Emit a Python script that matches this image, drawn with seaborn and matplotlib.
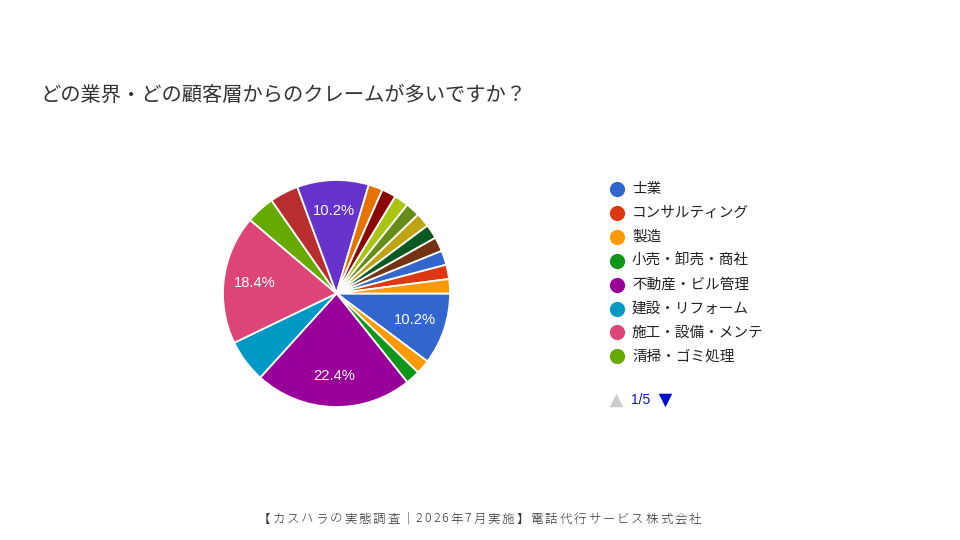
import matplotlib
matplotlib.use("Agg")
import matplotlib.pyplot as plt
import seaborn as sns
import numpy as np

# ---- data ----
title = "どの業界・どの顧客層からのクレームが多いですか？"
footer = "【カスハラの実態調査｜2026年7月実施】電話代行サービス株式会社"
legend_page1 = ["士業", "コンサルティング", "製造", "小売・卸売・商社",
                "不動産・ビル管理", "建設・リフォーム", "施工・設備・メンテ", "清掃・ゴミ処理"]
# responses per category, in legend order (34 categories, 5 legend pages)
counts = [5, 0, 1, 1, 11, 3, 9, 2,
          2, 0, 0, 0, 0, 5, 1, 1,
          0, 0, 0, 0, 0, 0, 0, 0,
          0, 1, 0, 1, 1, 1, 1, 1,
          1, 1]
page_text = "1/5"

google = ["#3366cc", "#dc3912", "#ff9900", "#109618", "#990099", "#0099c6", "#dd4477",
          "#66aa00", "#b82e2e", "#316395", "#994499", "#22aa99", "#aaaa11", "#6633cc",
          "#e67300", "#8b0707", "#651067", "#329262", "#5574a6", "#3b3eac", "#b77322",
          "#16d620", "#b91383", "#f4359e", "#9c5935", "#a9c413", "#2a778d", "#668d1c",
          "#bea413", "#0c5922", "#743411"]

sns.set_theme(style="white")
plt.rcParams['font.family'] = ['Noto Sans CJK JP', 'DejaVu Sans']

palette = sns.color_palette([google[i % len(google)] for i in range(len(counts))])

W, H = 960, 540
fig = plt.figure(figsize=(W / 100, H / 100), dpi=100)
fig.patch.set_facecolor("white")

# pie axes: centre (336.5, 293.5) px, radius 113.5 px
cx, cy, r = 336.5, 293.5, 113.5
lim = 1.1
size = 2 * lim * r
ax = fig.add_axes([(cx - size / 2) / W, (H - cy - size / 2) / H, size / W, size / H])

vals = np.array(counts, dtype=float)
mask = vals > 0
vals_nz = vals[mask]
cols_nz = [c for c, m in zip(palette, mask) if m]

def fmt(p):
    return f"{p:.1f}%" if p > 9 else ""

wedges, _, autotexts = ax.pie(vals_nz, colors=cols_nz, startangle=0, counterclock=False,
                              radius=1, autopct=fmt, pctdistance=0.73,
                              wedgeprops=dict(edgecolor="white", linewidth=1.3),
                              textprops=dict(color="white", fontsize=10.6,
                                             family=["Liberation Sans", "DejaVu Sans"]))
ax.set_xlim(-lim, lim)
ax.set_ylim(-lim, lim)
ax.set_aspect("equal")
ax.axis("off")

# overlay axes in pixel coordinates for text/legend
ov = fig.add_axes([0, 0, 1, 1], facecolor="none")
ov.set_xlim(0, W)
ov.set_ylim(H, 0)
ov.axis("off")

ov.text(40, 95, title, fontsize=14.6, color="#333333", ha="left", va="center")

# footer with letter spacing (placed character by character)
renderer = fig.canvas.get_renderer()
fx0, fx1, fy = 258, 701, 519
objs = []
widths = []
for ch in footer:
    t = ov.text(0, fy, ch, fontsize=9.0, color="#333333", ha="left", va="center",
                fontweight="light")
    objs.append(t)
    widths.append(t.get_window_extent(renderer).width)
gap = (fx1 - fx0 - sum(widths)) / (len(footer) - 1)
x = fx0
for t, w in zip(objs, widths):
    t.set_x(x)
    x += w + gap

# legend (page 1)
for i, lab in enumerate(legend_page1):
    y = 189 + i * 23.9
    ov.scatter([617], [y], s=120, color=palette[i], marker="o", linewidths=0)
    ov.text(632, y, lab, fontsize=10.5, color="#222222", ha="left", va="center")

ypg = 400
ov.scatter([616], [ypg], s=95, marker="^", color="#cccccc", linewidths=0)
ov.text(631, ypg, page_text, fontsize=10, color="#0011cc", ha="left", va="center",
        family=["Liberation Sans", "DejaVu Sans"])
ov.scatter([665], [ypg], s=95, marker="v", color="#0011cc", linewidths=0)

fig.savefig("out.png", dpi=100, facecolor="white")
